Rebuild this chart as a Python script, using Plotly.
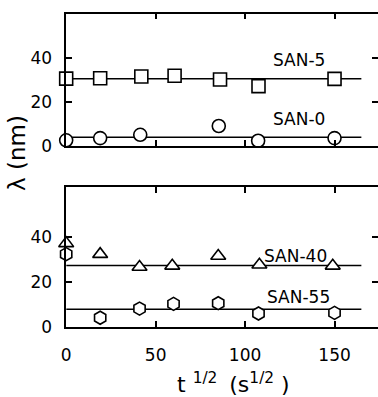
import plotly.graph_objects as go

# ---- data ----
tick_x = [0, 50, 100, 150]
tick_y = [0, 20, 40]

san5_x = [0, 19, 42, 60.6, 86, 107.5, 150]
san5_y = [30.8, 31.0, 31.8, 32.1, 30.4, 27.4, 30.7]
san0_x = [0, 19, 41.4, 85.3, 107.3, 150]
san0_y = [2.7, 3.7, 5.2, 9.2, 2.5, 3.7]

san40_x = [0, 19, 41, 59.3, 85, 108, 149]
san40_y = [37.0, 32.2, 26.5, 27.0, 31.4, 27.5, 27.0]
san55_x = [0, 19, 41, 60, 85, 107.5, 150]
san55_y = [32.2, 3.9, 8.0, 10.1, 10.4, 5.8, 6.1]

fit_x = [0, 165]
san5_fit = [30.7, 30.7]
san0_fit = [4.1, 4.1]
san40_fit = [27.2, 27.2]
san55_fit = [7.7, 7.7]

labels = ["SAN-5", "SAN-0", "SAN-40", "SAN-55"]
label_x = [130, 130, 128, 130]
label_y = [39.5, 12.5, 31.5, 13]

FONT = "DejaVu Sans"
W, H = 378, 397
LW = 1.5

fig = go.Figure()

def add_series(x, y, fit, symbol, xa, ya):
    fig.add_trace(go.Scatter(x=fit_x, y=fit, mode="lines",
                             line=dict(color="black", width=LW),
                             xaxis=xa, yaxis=ya, showlegend=False, hoverinfo="skip"))
    fig.add_trace(go.Scatter(x=x, y=y, mode="markers",
                             marker=dict(symbol=symbol, size=13, color="white",
                                         line=dict(color="black", width=1.6)),
                             xaxis=xa, yaxis=ya, showlegend=False, cliponaxis=False))

add_series(san5_x, san5_y, san5_fit, "square", "x", "y")
add_series(san0_x, san0_y, san0_fit, "circle", "x", "y")
add_series(san40_x, san40_y, san40_fit, "triangle-up", "x2", "y2")
add_series(san55_x, san55_y, san55_fit, "hexagon", "x2", "y2")

xdom = [62 / W, 1.0]
top_dom = [1 - 150 / H, 1 - 14 / H]
bot_dom = [1 - 335 / H, 1 - 192 / H]
xr = [0, 174.3]

common_x = dict(range=xr, domain=xdom, tickvals=tick_x, ticks="inside", ticklen=6,
                tickwidth=LW, tickcolor="black", showline=True, linecolor="black",
                linewidth=LW, mirror="ticks", showgrid=False, zeroline=False,
                tickfont=dict(family=FONT, size=17, color="black"))
common_y = dict(tickvals=tick_y, ticks="inside", ticklen=6, tickwidth=LW,
                tickcolor="black", showline=True, linecolor="black", linewidth=LW,
                showgrid=False, zeroline=False, ticklabelstandoff=9,
                tickfont=dict(family=FONT, size=17, color="black"))
right_y = dict(tickvals=tick_y, ticks="inside", ticklen=6, tickwidth=LW,
               tickcolor="black", showline=False, showgrid=False, zeroline=False,
               showticklabels=False, side="right")

fig.update_layout(
    width=W, height=H, margin=dict(l=0, r=0, t=0, b=0),
    paper_bgcolor="white", plot_bgcolor="white",
    xaxis=dict(common_x, anchor="y", showticklabels=False),
    yaxis=dict(common_y, domain=top_dom, range=[0, 60.4], anchor="x"),
    yaxis3=dict(right_y, range=[0, 60.4], overlaying="y", anchor="x"),
    xaxis2=dict(common_x, anchor="y2", ticklabelstandoff=12),
    yaxis2=dict(common_y, domain=bot_dom, range=[0, 62], anchor="x2"),
    yaxis4=dict(right_y, range=[0, 62], overlaying="y2", anchor="x2"),
)

# invisible traces so the right-side overlay axes render
fig.add_trace(go.Scatter(x=[None], y=[None], xaxis="x", yaxis="y3", showlegend=False))
fig.add_trace(go.Scatter(x=[None], y=[None], xaxis="x2", yaxis="y4", showlegend=False))

refs = [("x", "y"), ("x", "y"), ("x2", "y2"), ("x2", "y2")]
for lab, lx, ly, (xa, ya) in zip(labels, label_x, label_y, refs):
    fig.add_annotation(text=lab, x=lx, y=ly, xref=xa, yref=ya, showarrow=False,
                       font=dict(family=FONT, size=17, color="black"))

fig.add_annotation(text="λ (nm)", x=12 / W, y=1 - 157 / H, xref="paper", yref="paper",
                   xanchor="center", yanchor="middle",
                   showarrow=False, textangle=-90,
                   font=dict(family=FONT, size=23, color="black"))
fig.add_annotation(text="t <sup>1/2 </sup> (s<sup>1/2</sup> )", x=232 / W, y=1 - 393 / H,
                   xref="paper", yref="paper", xanchor="center", yanchor="middle",
                   showarrow=False,
                   font=dict(family=FONT, size=22, color="black"))

fig.write_html("out.html")
